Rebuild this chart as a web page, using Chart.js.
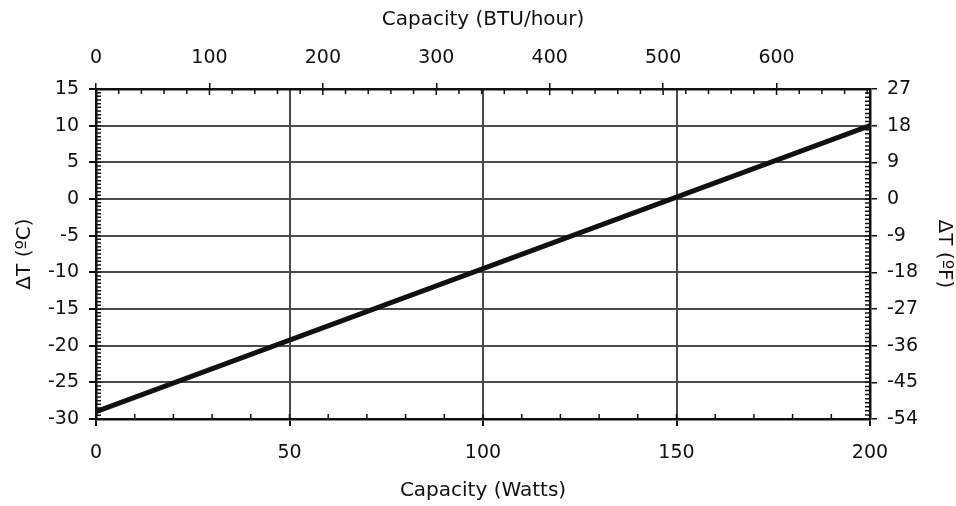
<!DOCTYPE html>
<html>
<head>
<meta charset="utf-8">
<script src="https://cdn.jsdelivr.net/npm/chart.js@4/dist/chart.umd.min.js"></script>
<style>
  html, body { margin: 0; padding: 0; background: #fff; }
  #wrap { width: 956px; height: 506px; }
</style>
</head>
<body>
<div id="wrap"><canvas id="chart"></canvas></div>
<script>
// Data
var capacityWatts = [0, 200];
var deltaTC = [-29, 10];

// Tick labels on each axis
var wattTicks = [0, 50, 100, 150, 200];
var btuTicks = [0, 100, 200, 300, 400, 500, 600];
var celsiusTicks = [-30, -25, -20, -15, -10, -5, 0, 5, 10, 15];
var fahrenheitTicks = [-54, -45, -36, -27, -18, -9, 0, 9, 18, 27];

var BTU_PER_WATT = 3.412;
var FONT = '"DejaVu Sans", Verdana, sans-serif';
var textColor = '#111';
var gridColor = '#4a4a4a';

function fixedTicks(list) {
  return function (scale) {
    scale.ticks = list.map(function (v) { return { value: v }; });
  };
}

// small inward ticks between the labelled ones
var minorTicks = {
  id: 'minorTicks',
  afterDatasetsDraw: function (chart) {
    var ctx = chart.ctx;
    var a = chart.chartArea;
    var s = chart.scales;
    ctx.save();
    ctx.strokeStyle = '#111';
    ctx.lineWidth = 1.5;
    function run(scale, step, major, draw) {
      for (var v = scale.min; v <= scale.max + 1e-6; v += step) {
        var r = Math.round(v * 100) / 100;
        var isMajor = Math.abs(r / major - Math.round(r / major)) < 1e-6;
        draw(scale.getPixelForValue(r), isMajor);
      }
    }
    ctx.beginPath();
    run(s.x, 10, 50, function (p, m) { ctx.moveTo(p, a.bottom); ctx.lineTo(p, a.bottom - 5); });
    run(s.x2, 20, 100, function (p, m) { ctx.moveTo(p, a.top); ctx.lineTo(p, a.top + (m ? 6 : 5)); });
    run(s.y, 0.5, 5, function (p, m) { ctx.moveTo(a.left, p); ctx.lineTo(a.left + 5, p); });
    run(s.y2, 1, 9, function (p, m) { ctx.moveTo(a.right, p); ctx.lineTo(a.right - 5, p); });
    ctx.stroke();
    ctx.restore();
  }
};

var tickFont = { family: FONT, size: 19 };
var titleFont = { family: FONT, size: 20 };

var ctx = document.getElementById('chart').getContext('2d');
var chart = new Chart(ctx, {
  type: 'line',
  data: {
    datasets: [{
      data: capacityWatts.map(function (w, i) { return { x: w, y: deltaTC[i] }; }),
      borderColor: '#111',
      borderWidth: 5,
      pointRadius: 0,
      tension: 0,
      xAxisID: 'x',
      yAxisID: 'y'
    }]
  },
  options: {
    responsive: true,
    maintainAspectRatio: false,
    animation: false,
    layout: { padding: 0 },
    plugins: { legend: { display: false }, tooltip: { enabled: false } },
    scales: {
      x: {
        type: 'linear', position: 'bottom', min: 0, max: 200,
        afterBuildTicks: fixedTicks(wattTicks),
        afterFit: function (s) { s.height = 87; },
        grid: { color: gridColor, lineWidth: 2, tickLength: 7, tickColor: '#111' },
        border: { color: '#111', width: 2.5 },
        ticks: { font: tickFont, color: textColor, padding: 16, maxRotation: 0 },
        title: { display: true, text: 'Capacity (Watts)', font: titleFont, color: textColor, padding: { top: 0, bottom: 3 } }
      },
      x2: {
        type: 'linear', position: 'top', min: 0, max: 200 * BTU_PER_WATT,
        afterBuildTicks: fixedTicks(btuTicks),
        afterFit: function (s) { s.height = 89; },
        grid: { drawOnChartArea: false, tickLength: 6, tickColor: '#111', lineWidth: 1.5 },
        border: { color: '#111', width: 2.5 },
        ticks: { font: tickFont, color: textColor, padding: 14, maxRotation: 0 },
        title: { display: true, text: 'Capacity (BTU/hour)', font: titleFont, color: textColor, padding: { top: 8, bottom: 0 } }
      },
      y: {
        type: 'linear', position: 'left', min: -30, max: 15,
        afterBuildTicks: fixedTicks(celsiusTicks),
        afterFit: function (s) { s.width = 96; },
        grid: { color: gridColor, lineWidth: 2, tickLength: 7, tickColor: '#111' },
        border: { color: '#111', width: 2.5 },
        ticks: { font: tickFont, color: textColor, padding: 10 },
        title: { display: true, text: 'ΔT (ºC)', font: titleFont, color: textColor, padding: { top: 13, bottom: 0 } }
      },
      y2: {
        type: 'linear', position: 'right', min: -54, max: 27,
        afterBuildTicks: fixedTicks(fahrenheitTicks),
        afterFit: function (s) { s.width = 86; },
        grid: { drawOnChartArea: false, tickLength: 7, tickColor: '#111', lineWidth: 1.5 },
        border: { color: '#111', width: 2.5 },
        ticks: { font: tickFont, color: textColor, padding: 10 },
        title: { display: true, text: 'ΔT (ºF)', font: titleFont, color: textColor, padding: { top: 0, bottom: 0 } }
      }
    }
  },
  plugins: [minorTicks]
});
</script>
</body>
</html>
